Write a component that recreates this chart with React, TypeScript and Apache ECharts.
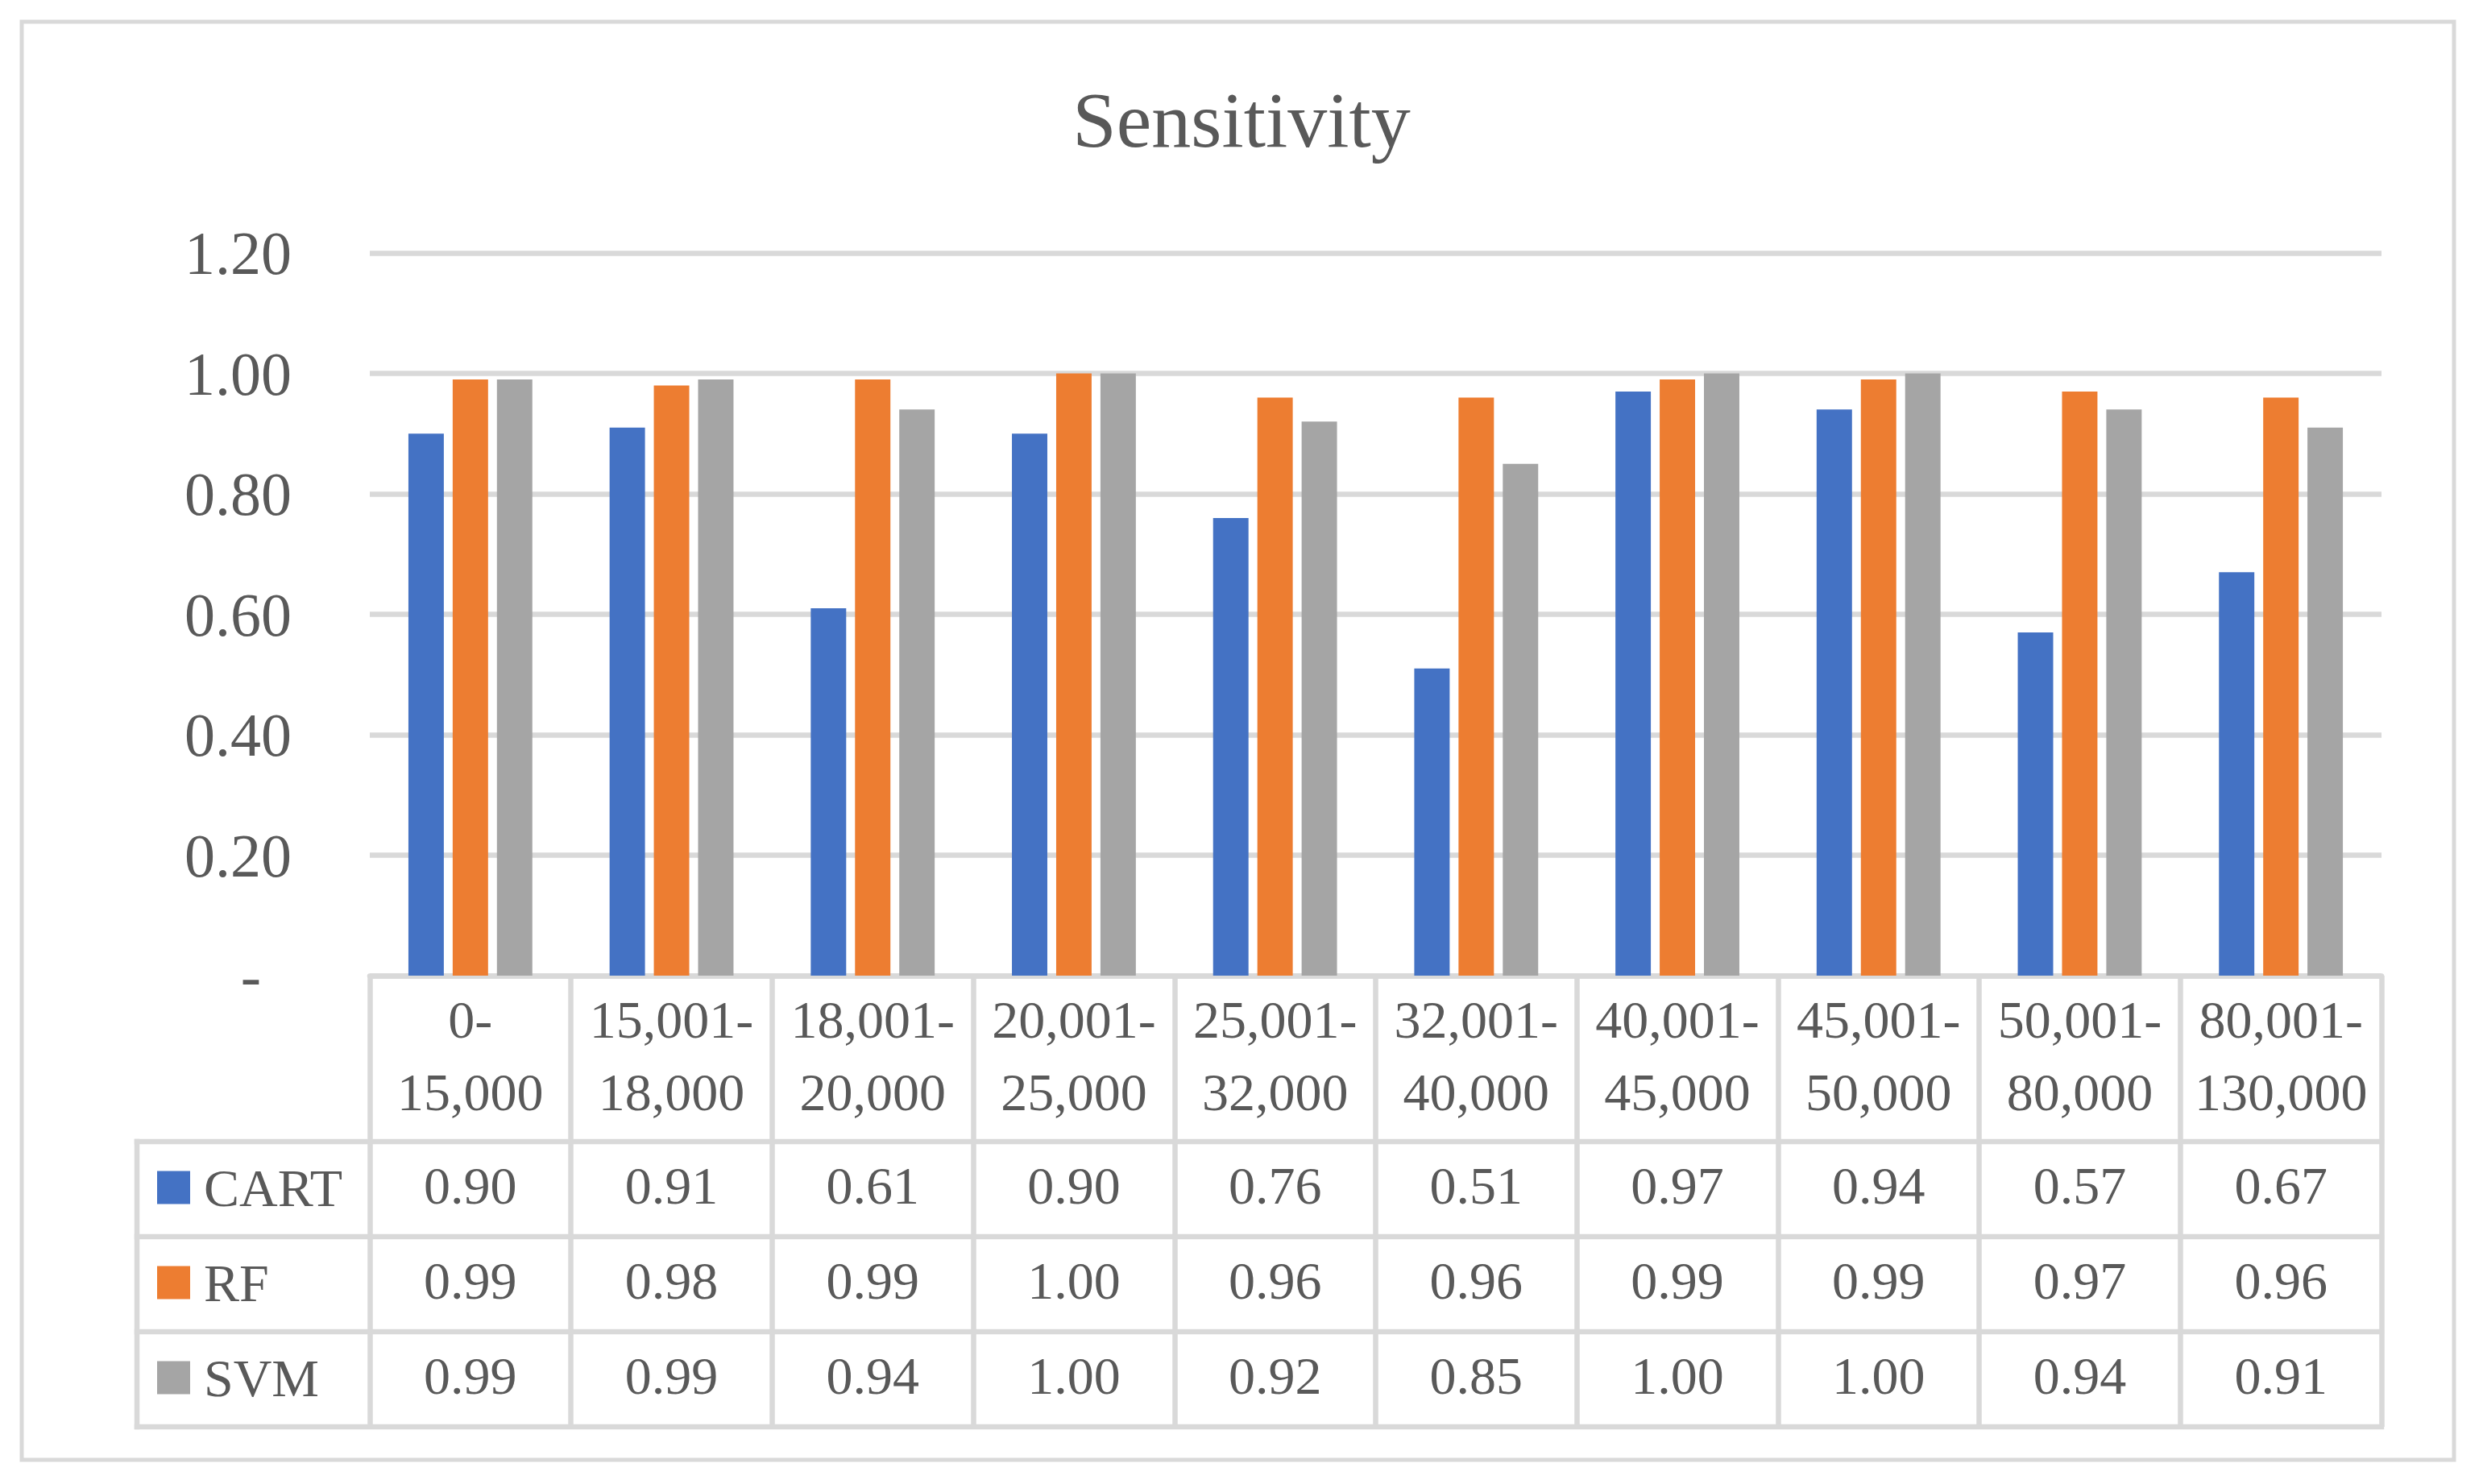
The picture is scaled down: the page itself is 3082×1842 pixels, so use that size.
import React, { useEffect, useRef } from "react";
import * as echarts from "echarts";

// ---- data ----
const categories = [
  "0-\n15,000",
  "15,001-\n18,000",
  "18,001-\n20,000",
  "20,001-\n25,000",
  "25,001-\n32,000",
  "32,001-\n40,000",
  "40,001-\n45,000",
  "45,001-\n50,000",
  "50,001-\n80,000",
  "80,001-\n130,000",
];
const seriesNames = ["CART", "RF", "SVM"];
const cartValues = [0.9, 0.91, 0.61, 0.9, 0.76, 0.51, 0.97, 0.94, 0.57, 0.67];
const rfValues = [0.99, 0.98, 0.99, 1.0, 0.96, 0.96, 0.99, 0.99, 0.97, 0.96];
const svmValues = [0.99, 0.99, 0.94, 1.0, 0.92, 0.85, 1.0, 1.0, 0.94, 0.91];
const seriesColors = ["#4472c4", "#ed7d31", "#a5a5a5"];
const yMin = 0;
const yMax = 1.2;
const yStep = 0.2;
const titleText = "Sensitivity";

const FONT = "'Liberation Serif', 'Times New Roman', serif";
const TEXT = "#595959";
const LINE = "#d9d9d9";

export default function App() {
  const ref = useRef<HTMLDivElement>(null);

  useEffect(() => {
    const chart = echarts.init(ref.current!, null, { renderer: "svg" });

    const gridLeft = 459;
    const gridRight = 2956;
    const gridTop = 314;
    const baseY = 1211;
    const headerBottom = 1417;
    const rowH = 118;
    const rowLines = [0, 1, 2, 3].map((i) => headerBottom + i * rowH);
    const rowCenters = [0, 1, 2].map((i) => headerBottom + rowH * (i + 0.5));
    const legendLeftX = 170;
    const lw = 6.5;
    const textLift = 5;
    const legendTextPadBottom = 30;
    const legendItemH = 66 + legendTextPadBottom;
    const seriesValues = [cartValues, rfValues, svmValues];

    const valueAxes = seriesValues.map((vals, k) => ({
      type: "category",
      gridIndex: 0,
      position: "bottom",
      data: categories,
      axisLine: { show: false },
      axisTick: { show: false },
      splitLine: { show: false },
      axisLabel: {
        interval: 0,
        margin: rowCenters[k] - baseY - textLift,
        verticalAlign: "middle",
        fontSize: 66,
        fontFamily: FONT,
        color: TEXT,
        formatter: (_v: string, i: number) => vals[i].toFixed(2),
      },
    }));

    const graphics: any[] = [
      {
        type: "rect",
        shape: { x: 27, y: 27, width: 3046 - 27, height: 1812 - 27 },
        style: { fill: "none", stroke: LINE, lineWidth: 5 },
        silent: true,
      },
      ...rowLines.map((y) => ({
        type: "line",
        shape: { x1: legendLeftX, y1: y, x2: gridRight, y2: y },
        style: { stroke: LINE, lineWidth: lw, lineCap: "square" },
        silent: true,
      })),
      {
        type: "line",
        shape: { x1: legendLeftX, y1: headerBottom, x2: legendLeftX, y2: rowLines[3] },
        style: { stroke: LINE, lineWidth: lw, lineCap: "square" },
        silent: true,
      },
    ];

    chart.setOption({
      animation: false,
      backgroundColor: "#ffffff",
      title: {
        text: titleText,
        left: "center",
        top: 95,
        textStyle: { fontSize: 98, fontWeight: "normal", color: TEXT, fontFamily: FONT },
      },
      legend: {
        orient: "vertical",
        left: 195,
        top: rowCenters[0] - 2 - legendItemH / 2,
        padding: 0,
        itemWidth: 41,
        itemHeight: 41,
        itemGap: rowH - legendItemH,
        icon: "rect",
        selectedMode: false,
        data: seriesNames,
        textStyle: {
          fontSize: 66,
          lineHeight: 66,
          fontFamily: FONT,
          color: TEXT,
          padding: [0, 0, legendTextPadBottom, 12],
        },
      },
      grid: {
        left: gridLeft,
        top: gridTop,
        width: gridRight - gridLeft,
        height: baseY - gridTop,
        containLabel: false,
      },
      xAxis: [
        {
          type: "category",
          gridIndex: 0,
          position: "bottom",
          data: categories,
          axisLine: { show: true, lineStyle: { color: LINE, width: lw } },
          axisTick: {
            show: true,
            interval: 0,
            length: rowLines[3] - baseY,
            lineStyle: { color: LINE, width: lw },
          },
          splitLine: { show: false },
          axisLabel: {
            interval: 0,
            margin: (headerBottom - baseY) / 2 - 4,
            verticalAlign: "middle",
            fontSize: 66,
            lineHeight: 90,
            fontFamily: FONT,
            color: TEXT,
          },
        },
        ...valueAxes,
      ],
      yAxis: {
        type: "value",
        min: yMin,
        max: yMax,
        interval: yStep,
        axisLine: { show: false },
        axisTick: { show: false },
        splitLine: { show: true, lineStyle: { color: LINE, width: lw } },
        axisLabel: {
          margin: 97,
          fontSize: 76,
          fontFamily: FONT,
          color: TEXT,
          formatter: (v: number) => (Math.abs(v) < 1e-9 ? "{dash|-}" : v.toFixed(2)),
          rich: {
            dash: { fontSize: 76, fontFamily: FONT, color: TEXT, padding: [0, 38, 0, 0] },
          },
        },
      },
      series: seriesNames.map((name, k) => ({
        name,
        type: "bar",
        xAxisIndex: 0,
        yAxisIndex: 0,
        data: seriesValues[k],
        barWidth: "17.6%",
        barGap: "25%",
        itemStyle: { color: seriesColors[k] },
      })),
      graphic: graphics,
    });

    return () => {
      chart.dispose();
    };
  }, []);

  return (
    <div
      ref={ref}
      style={{ position: "fixed", left: 0, top: 0, width: 3082, height: 1842, background: "#fff" }}
    />
  );
}
